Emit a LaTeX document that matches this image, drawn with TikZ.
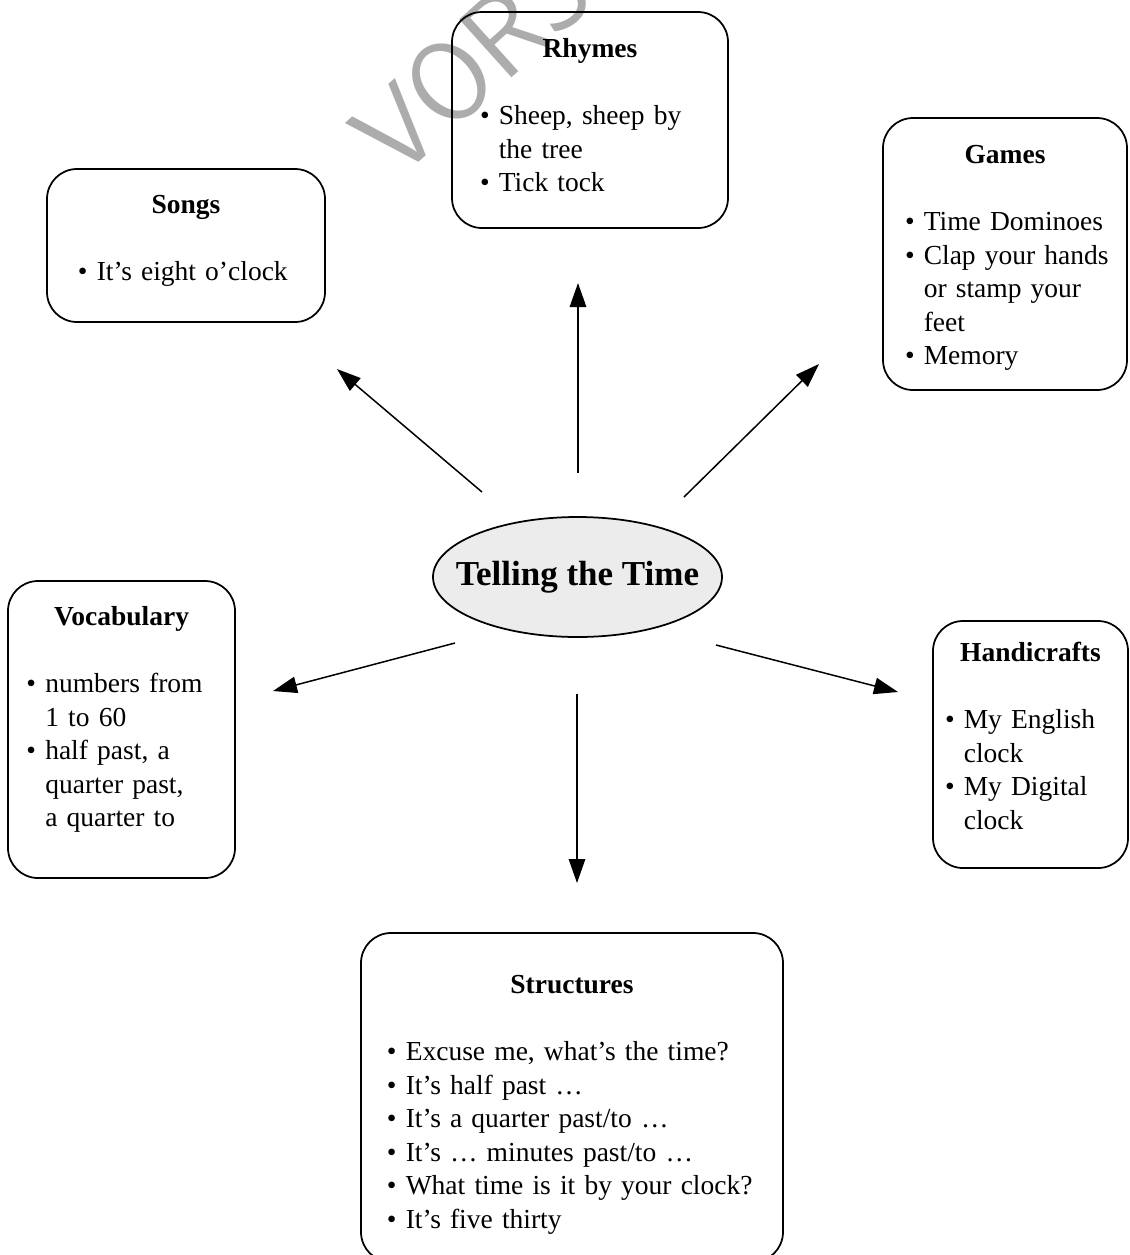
\documentclass[tikz,border=0pt]{standalone}
\usepackage{fontspec}
\setmainfont{Liberation Serif}
\usetikzlibrary{shapes.geometric,arrows.meta}

\newlength{\bulletwd}
\newcommand{\boxhead}[1]{\settowidth{\bulletwd}{\textbullet\ }{\centering\bfseries #1\par}\vspace{\baselineskip}}
\newcommand{\bitem}[1]{\par\noindent\hangindent=\bulletwd\hangafter=1 \mbox{\textbullet\ }#1}

\begin{document}
\begin{tikzpicture}[x=0.4pt,y=-0.4pt,
    every node/.style={font=\fontsize{11}{13.4}\selectfont},
    topicbox/.style={draw, line width=0.7pt, rounded corners=12pt, inner sep=0pt},
    topictext/.style={anchor=north, align=left, inner sep=0pt},
    spoke/.style={line width=0.6pt, -{Triangle[length=9.6pt,width=6.6pt]}}]
  \useasboundingbox (0,0) rectangle (1129,1255);
  % watermark
  \node[rotate=42, anchor=base west, text=gray!65, font=\sffamily\fontsize{45}{45}\selectfont] (mark) at (390,188) {VORS};
  % centre
  \node[ellipse, draw, line width=0.7pt, fill=gray!15, minimum width=115.6pt, minimum height=48pt,
        inner xsep=-12pt, inner ysep=0pt, font=\bfseries\fontsize{14}{16}\selectfont] (time) at (577.5,577) {Telling the Time};
  % topic boxes
  \node[topicbox, minimum width=110.4pt, minimum height=86.4pt] (rhymes) at (590,120) {};
  \node[topicbox, minimum width=111.2pt, minimum height=61.2pt] (songs) at (186,245.5) {};
  \node[topicbox, minimum width=97.6pt, minimum height=108.8pt] (games) at (1005,254) {};
  \node[topicbox, minimum width=90.8pt, minimum height=118.8pt] (vocab) at (121.5,729.5) {};
  \node[topicbox, minimum width=78pt, minimum height=98.8pt] (crafts) at (1030.5,744.5) {};
  \node[topicbox, minimum width=168.8pt, minimum height=131.6pt] (struct) at (572,1097.5) {};
  % topic texts
  \node[topictext, text width=88pt] (rhymes-txt) at (590,38)
    {\boxhead{Rhymes}\bitem{\mbox{Sheep, sheep by}\newline the tree}\bitem{Tick tock}\par};
  \node[topictext, text width=86.4pt] (songs-txt) at (186,195)
    {\boxhead{Songs}\bitem{It's eight o'clock}\par};
  \node[topictext, text width=80pt] (games-txt) at (1005,145)
    {\boxhead{Games}\bitem{Time Dominoes}\bitem{\mbox{Clap your hands}\newline or stamp your\newline feet}\bitem{Memory}\par};
  \node[topictext, text width=76pt] (vocab-txt) at (121.5,606)
    {\boxhead{Vocabulary}\bitem{numbers from\newline 1 to 60}\bitem{half past, a\newline quarter past,\newline a quarter to}\par};
  \node[topictext, text width=68.4pt] (crafts-txt) at (1030.5,642)
    {\boxhead{Handicrafts}\bitem{My English\newline clock}\bitem{My Digital\newline clock}\par};
  \node[topictext, text width=148pt] (struct-txt) at (572,975)
    {\boxhead{Structures}\bitem{Excuse me, what's the time?}\bitem{It's half past …}\bitem{It's a quarter past/to …}%
     \bitem{It's … minutes past/to …}\bitem{What time is it by your clock?}\bitem{It's five thirty}\par};
  % arrow ends
  \coordinate (out-up) at (578,473);   \coordinate (in-up) at (578,283);
  \coordinate (out-ul) at (482,492);   \coordinate (in-ul) at (337,369);
  \coordinate (out-ur) at (684,497);   \coordinate (in-ur) at (819,364);
  \coordinate (out-l) at (455,643);    \coordinate (in-l) at (273,691);
  \coordinate (out-r) at (716,645);    \coordinate (in-r) at (898,692);
  \coordinate (out-dn) at (577,694);   \coordinate (in-dn) at (577,883);
  \foreach \d in {up,ul,ur,l,r,dn}
    \draw[spoke] (out-\d) -- (in-\d);
\end{tikzpicture}
\end{document}
